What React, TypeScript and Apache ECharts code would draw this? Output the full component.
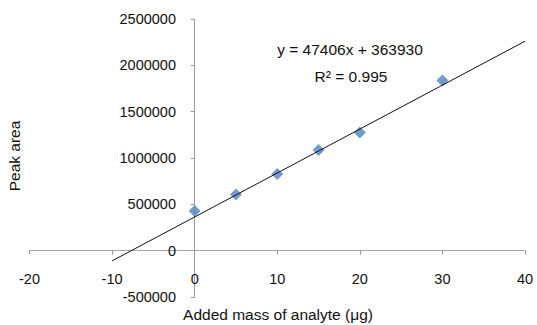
import React, { useEffect, useRef } from "react";
import * as echarts from "echarts";

const massX = [0, 5, 10, 15, 20, 30];
const peakArea = [429000, 605000, 828000, 1085000, 1275000, 1836000];
const trendX = [-10, 40];
const trendY = [-110130, 2260170];
const xTicks = { min: -20, max: 40, interval: 10 };
const yTicks = { min: -500000, max: 2500000, interval: 500000 };
const equationText = "y = 47406x + 363930";
const r2Text = "R² = 0.995";
const xTitle = "Added mass of analyte (μg)";
const yTitle = "Peak area";

export default function App() {
  const ref = useRef<HTMLDivElement>(null);
  useEffect(() => {
    if (!ref.current) return;
    const chart = echarts.init(ref.current, null, { renderer: "svg" });
    const font = "'Liberation Sans', Arial, sans-serif";
    chart.setOption({
      animation: false,
      backgroundColor: "#ffffff",
      grid: { left: 29.5, right: 12, top: 19, bottom: 28, outerBoundsMode: "none", containLabel: false },
      xAxis: {
        type: "value",
        min: xTicks.min,
        max: xTicks.max,
        interval: xTicks.interval,
        splitLine: { show: false },
        axisLine: { show: true, onZero: true, lineStyle: { color: "#9a9a9a", width: 1, type: [1, 1] } },
        axisTick: { show: true, inside: false, length: 4, lineStyle: { color: "#9a9a9a" } },
        axisLabel: { margin: -26, color: "#111111", fontSize: 14.5, fontFamily: font, formatter: (v: number) => String(v) },
      },
      yAxis: {
        type: "value",
        min: yTicks.min,
        max: yTicks.max,
        interval: yTicks.interval,
        splitLine: { show: false },
        axisLine: { show: true, onZero: true, lineStyle: { color: "#9a9a9a", width: 1 } },
        axisTick: { show: true, inside: false, length: 4, lineStyle: { color: "#9a9a9a" } },
        axisLabel: { margin: -146.5, color: "#111111", fontSize: 14.5, fontFamily: font, formatter: (v: number) => String(v) },
      },
      series: [
        {
          type: "line",
          data: trendX.map((x, i) => [x, trendY[i]]),
          showSymbol: false,
          symbol: "none",
          lineStyle: { color: "#111111", width: 1 },
          z: 3,
        },
        {
          type: "scatter",
          data: massX.map((x, i) => [x, peakArea[i]]),
          symbol: "diamond",
          symbolSize: 12,
          itemStyle: { color: "#4F81BD" },
          z: 2,
        },
      ],
      graphic: [
        {
          type: "text",
          x: 350,
          y: 49,
          style: { text: equationText, fill: "#111111", font: `15.5px ${font}`, align: "center", verticalAlign: "middle" },
        },
        {
          type: "text",
          x: 351,
          y: 76,
          style: { text: r2Text, fill: "#111111", font: `15.5px ${font}`, align: "center", verticalAlign: "middle" },
        },
        {
          type: "text",
          x: 278,
          y: 314,
          style: { text: xTitle, fill: "#111111", font: `15.5px ${font}`, align: "center", verticalAlign: "middle" },
        },
        {
          type: "text",
          x: 14,
          y: 156,
          rotation: Math.PI / 2,
          style: { text: yTitle, fill: "#111111", font: `15.5px ${font}`, align: "center", verticalAlign: "middle" },
        },
      ],
    });
    return () => chart.dispose();
  }, []);
  return <div ref={ref} style={{ width: 537, height: 325, position: "absolute", left: 0, top: 0 }} />;
}
